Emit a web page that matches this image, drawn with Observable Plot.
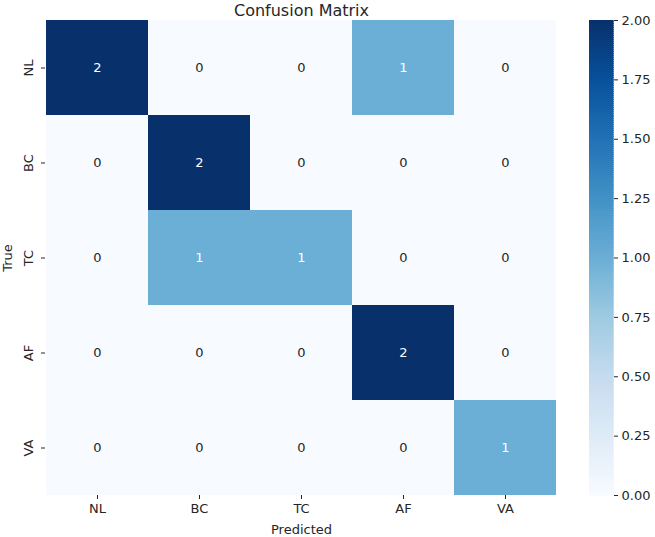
<!DOCTYPE html>
<html>
<head>
<meta charset="utf-8">
<script src="https://cdn.jsdelivr.net/npm/d3@7"></script>
<script src="https://cdn.jsdelivr.net/npm/@observablehq/plot@0.6"></script>
<style>
  html, body { margin: 0; padding: 0; background: #fff; }
  #wrap { position: relative; width: 655px; height: 537px; font-family: "DejaVu Sans", sans-serif; }
  #wrap svg { position: absolute; top: 0; }
</style>
</head>
<body>
<div id="wrap"></div>
<script>
const labels = ["NL", "BC", "TC", "AF", "VA"];
const matrix = [
  [2, 0, 0, 1, 0],
  [0, 2, 0, 0, 0],
  [0, 1, 1, 0, 0],
  [0, 0, 0, 2, 0],
  [0, 0, 0, 0, 1]
];
const colorTicks = [0, 0.25, 0.5, 0.75, 1, 1.25, 1.5, 1.75, 2];
const title = "Confusion Matrix";

const cells = [];
matrix.forEach((row, i) => row.forEach((v, j) => cells.push({trueLabel: labels[i], predicted: labels[j], value: v})));

const font = "DejaVu Sans, sans-serif";
const ink = "#262626";
// matplotlib "Blues" colormap stops (linear segmented)
const bluesStops = ["#f7fbff", "#deebf7", "#c6dbef", "#9ecae1", "#6baed6", "#4292c6", "#2171b5", "#08519c", "#08306b"];
const colorOpts = {type: "linear", domain: bluesStops.map((_, i) => i * 2 / (bluesStops.length - 1)), range: bluesStops, interpolate: "rgb"};

const main = Plot.plot({
  width: 655,
  height: 537,
  marginLeft: 45,
  marginRight: 98,
  marginTop: 20,
  marginBottom: 42,
  style: {fontFamily: font, fontSize: "13px", color: ink, background: "transparent"},
  x: {domain: labels, padding: 0},
  y: {domain: labels, padding: 0},
  color: colorOpts,
  marks: [
    Plot.cell(cells, {x: "predicted", y: "trueLabel", fill: "value", inset: 0, shapeRendering: "crispEdges"}),
    Plot.text(cells, {x: "predicted", y: "trueLabel", text: d => String(d.value), fill: d => d.value >= 1 ? "#ffffff" : ink, fontSize: 13}),
    Plot.axisX({label: "Predicted", labelAnchor: "center", labelArrow: "none", labelOffset: 38, tickSize: 4, tickPadding: 4, fontSize: 13}),
    Plot.axisY({label: "True", labelAnchor: "center", labelArrow: "none", labelOffset: 43, tickSize: 4, tickPadding: 9, tickRotate: -90, fontSize: 13}),
    Plot.text([title], {frameAnchor: "top", dy: -16, fontSize: 16, fill: ink})
  ]
});
main.style.left = "0px";

const steps = d3.range(0, 2, 2 / 240).map(v => ({y1: v, y2: v + 2 / 240}));
const bar = Plot.plot({
  width: 66,
  height: 537,
  marginLeft: 0,
  marginRight: 42,
  marginTop: 20,
  marginBottom: 42,
  style: {fontFamily: font, fontSize: "13px", color: ink, background: "transparent"},
  x: {domain: [0, 1], axis: null},
  y: {domain: [0, 2], ticks: colorTicks, tickFormat: d3.format(".2f")},
  color: colorOpts,
  marks: [
    Plot.rect(steps, {x1: 0, x2: 1, y1: "y1", y2: "y2", fill: d => (d.y1 + d.y2) / 2, stroke: d => (d.y1 + d.y2) / 2, strokeWidth: 0.6, shapeRendering: "crispEdges"}),
    Plot.axisY({anchor: "right", ticks: colorTicks, tickFormat: d3.format(".2f"), label: null, tickSize: 4, tickPadding: 4, fontSize: 13})
  ]
});
bar.style.left = "589px";

const wrap = document.getElementById("wrap");
wrap.appendChild(main);
wrap.appendChild(bar);
</script>
</body>
</html>
